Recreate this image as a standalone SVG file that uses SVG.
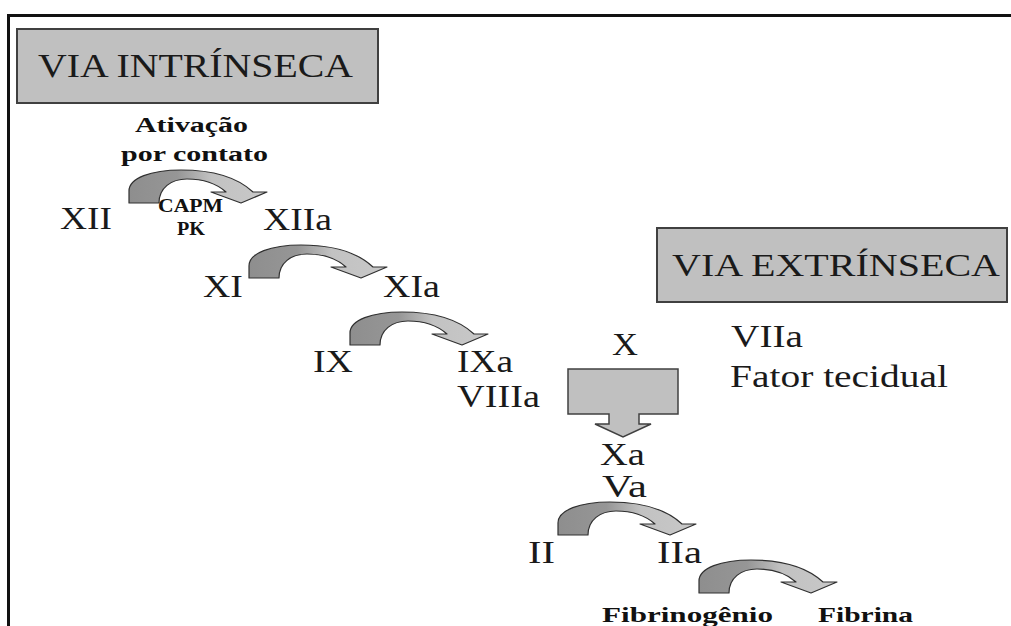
<svg xmlns="http://www.w3.org/2000/svg" width="1011" height="626" viewBox="0 0 1011 626">
<style>
.t{font-family:"Liberation Serif","Times New Roman",serif;font-size:31px;fill:#1a1a1a}
.b{font-family:"Liberation Serif","Times New Roman",serif;font-weight:bold;font-size:20px;fill:#111}
.box{fill:#c0c0c0;stroke:#404040;stroke-width:2}
.arc{fill:url(#g);stroke:#303030;stroke-width:1.2;stroke-linejoin:round}
.frame{stroke:#111;stroke-width:3;fill:none}
</style>
<defs>
<linearGradient id="g" x1="0" y1="0" x2="1" y2="0">
<stop offset="0" stop-color="#8e8e8e"/>
<stop offset="0.35" stop-color="#969696"/>
<stop offset="0.6" stop-color="#c2c2c2"/>
<stop offset="1" stop-color="#c8c8c8"/>
</linearGradient>
<path id="ca" class="arc" d="M0,0 L0,-12 C0,-25 22,-33 52,-33 C82,-33 108,-26 124,-11 L138,-11 L112,0 L82,-11 L97,-11 C88,-19 74,-24 58,-24 C42,-24 30,-15 30,0 Z"/>
</defs>
<g id="frame"><path class="frame" d="M7,15.5 H1011 M8.5,14 V626"/></g>
<g id="via-intrinseca"><rect class="box" x="17" y="29" width="361" height="74"/><text class="t" x="38" y="77" style="font-size:33px" textLength="315" lengthAdjust="spacingAndGlyphs">VIA INTRÍNSECA</text></g>
<g id="via-extrinseca"><rect class="box" x="657" y="228" width="350" height="74"/><text class="t" x="672" y="276" style="font-size:32px" textLength="328" lengthAdjust="spacingAndGlyphs">VIA EXTRÍNSECA</text></g>
<g id="connectors">
<use href="#ca" x="129" y="203"/>
<use href="#ca" x="249" y="278"/>
<use href="#ca" x="350" y="345"/>
<use href="#ca" x="558" y="535"/>
<use href="#ca" x="699" y="593"/>
<polygon class="box" style="stroke-width:1.5" points="568,369 678,369 678,414 639,414 639,424 651,424 623,437 595,424 609,424 609,414 568,414"/>
</g>
<g id="ativacao"><text class="b" x="135" y="132" textLength="113" lengthAdjust="spacingAndGlyphs">Ativação</text><text class="b" x="121" y="161" textLength="147" lengthAdjust="spacingAndGlyphs">por contato</text></g>
<g id="n-xii"><text class="t" x="60" y="229" textLength="52" lengthAdjust="spacingAndGlyphs">XII</text></g>
<g id="n-capm"><text class="b" x="158" y="212" style="font-size:19px" textLength="65" lengthAdjust="spacingAndGlyphs">CAPM</text><text class="b" x="177" y="235" style="font-size:19px" textLength="28" lengthAdjust="spacingAndGlyphs">PK</text></g>
<g id="n-xiia"><text class="t" x="263" y="230" textLength="69" lengthAdjust="spacingAndGlyphs">XIIa</text></g>
<g id="n-xi"><text class="t" x="203" y="297" textLength="40" lengthAdjust="spacingAndGlyphs">XI</text></g>
<g id="n-xia"><text class="t" x="383" y="297" textLength="57" lengthAdjust="spacingAndGlyphs">XIa</text></g>
<g id="n-ix"><text class="t" x="313" y="372" textLength="40" lengthAdjust="spacingAndGlyphs">IX</text></g>
<g id="n-ixa"><text class="t" x="457" y="372" textLength="56" lengthAdjust="spacingAndGlyphs">IXa</text><text class="t" x="457" y="407" textLength="83" lengthAdjust="spacingAndGlyphs">VIIIa</text></g>
<g id="n-x"><text class="t" x="612" y="355" textLength="26" lengthAdjust="spacingAndGlyphs">X</text></g>
<g id="n-viia"><text class="t" x="731" y="347" textLength="72" lengthAdjust="spacingAndGlyphs">VIIa</text><text class="t" x="730" y="387" textLength="218" lengthAdjust="spacingAndGlyphs">Fator tecidual</text></g>
<g id="n-xa"><text class="t" x="600" y="465" textLength="45" lengthAdjust="spacingAndGlyphs">Xa</text><text class="t" x="602" y="497" textLength="45" lengthAdjust="spacingAndGlyphs">Va</text></g>
<g id="n-ii"><text class="t" x="528" y="563" textLength="27" lengthAdjust="spacingAndGlyphs">II</text></g>
<g id="n-iia"><text class="t" x="657" y="563" textLength="45" lengthAdjust="spacingAndGlyphs">IIa</text></g>
<g id="n-fibrinogenio"><text class="b" x="602" y="622" style="font-size:22px" textLength="171" lengthAdjust="spacingAndGlyphs">Fibrinogênio</text></g>
<g id="n-fibrina"><text class="b" x="818" y="622" style="font-size:22px" textLength="95" lengthAdjust="spacingAndGlyphs">Fibrina</text></g>
</svg>
